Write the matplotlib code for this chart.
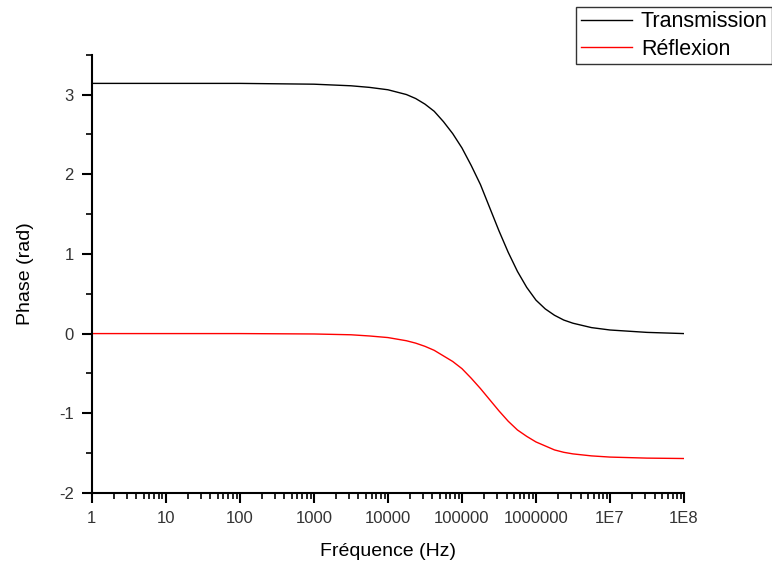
import matplotlib
matplotlib.use("Agg")
import matplotlib.pyplot as plt
from matplotlib.ticker import LogLocator, NullFormatter, MultipleLocator

plt.rcParams['font.family'] = ['Liberation Sans', 'DejaVu Sans']
plt.rcParams['axes.unicode_minus'] = False

freq_exp = [0, 1, 2, 3, 3.5, 3.75, 4.0, 4.125, 4.25, 4.375, 4.5, 4.625, 4.75,
            4.875, 5.0, 5.125, 5.25, 5.375, 5.5, 5.625, 5.75, 5.875, 6.0,
            6.125, 6.25, 6.375, 6.5, 6.75, 7.0, 7.5, 8.0]
transmission = [3.14, 3.14, 3.14, 3.13, 3.11, 3.09, 3.06, 3.03, 3.00, 2.95,
                2.88, 2.79, 2.66, 2.51, 2.33, 2.11, 1.87, 1.58, 1.29, 1.02,
                0.78, 0.58, 0.42, 0.31, 0.23, 0.17, 0.13, 0.075, 0.045, 0.015,
                0.0]
reflexion = [0.0, 0.0, 0.0, -0.005, -0.015, -0.03, -0.05, -0.07, -0.09, -0.12,
             -0.16, -0.21, -0.28, -0.35, -0.44, -0.56, -0.69, -0.83, -0.97,
             -1.10, -1.21, -1.29, -1.36, -1.41, -1.46, -1.49, -1.51, -1.535,
             -1.55, -1.563, -1.568]
freq = [10 ** e for e in freq_exp]

xtick_vals = [1, 10, 100, 1000, 10000, 100000, 1000000, 1e7, 1e8]
xtick_labels = ["1", "10", "100", "1000", "10000", "100000", "1000000", "1E7", "1E8"]
ytick_vals = [-2, -1, 0, 1, 2, 3]

fig = plt.figure(figsize=(7.72, 5.64), dpi=100)
ax = fig.add_axes([0.119, 0.126, 0.767, 0.777])

ax.plot(freq, transmission, color='black', lw=1.0, label='Transmission')
ax.plot(freq, reflexion, color='red', lw=1.0, label='Réflexion')

ax.set_xscale('log')
ax.set_xlim(1, 1e8)
ax.set_ylim(-2, 3.5)
ax.set_xticks(xtick_vals)
ax.set_xticklabels(xtick_labels)
ax.xaxis.set_minor_locator(LogLocator(base=10, subs=range(2, 10), numticks=100))
ax.xaxis.set_minor_formatter(NullFormatter())
ax.set_yticks(ytick_vals)
ax.yaxis.set_minor_locator(MultipleLocator(0.5))

for s in ['top', 'right']:
    ax.spines[s].set_visible(False)
for s in ['left', 'bottom']:
    ax.spines[s].set_linewidth(1.5)

ax.tick_params(which='major', direction='out', length=7, width=1.5,
               labelsize=12, colors='black', labelcolor='#333333', pad=6)
ax.tick_params(which='minor', direction='out', length=4, width=1.2)

ax.set_xlabel('Fréquence (Hz)', fontsize=14, labelpad=12)
ax.set_ylabel('Phase (rad)', fontsize=14, labelpad=18)

leg = fig.legend(loc='upper right', bbox_to_anchor=(1.0, 0.988), fontsize=15.5,
                 frameon=True, fancybox=False, shadow=False, handlelength=2.4,
                 borderpad=0.2, labelspacing=0.3, handletextpad=0.4,
                 borderaxespad=0)
leg.get_frame().set_edgecolor('black')
leg.get_frame().set_linewidth(1.0)

fig.savefig('out.png', dpi=100)
